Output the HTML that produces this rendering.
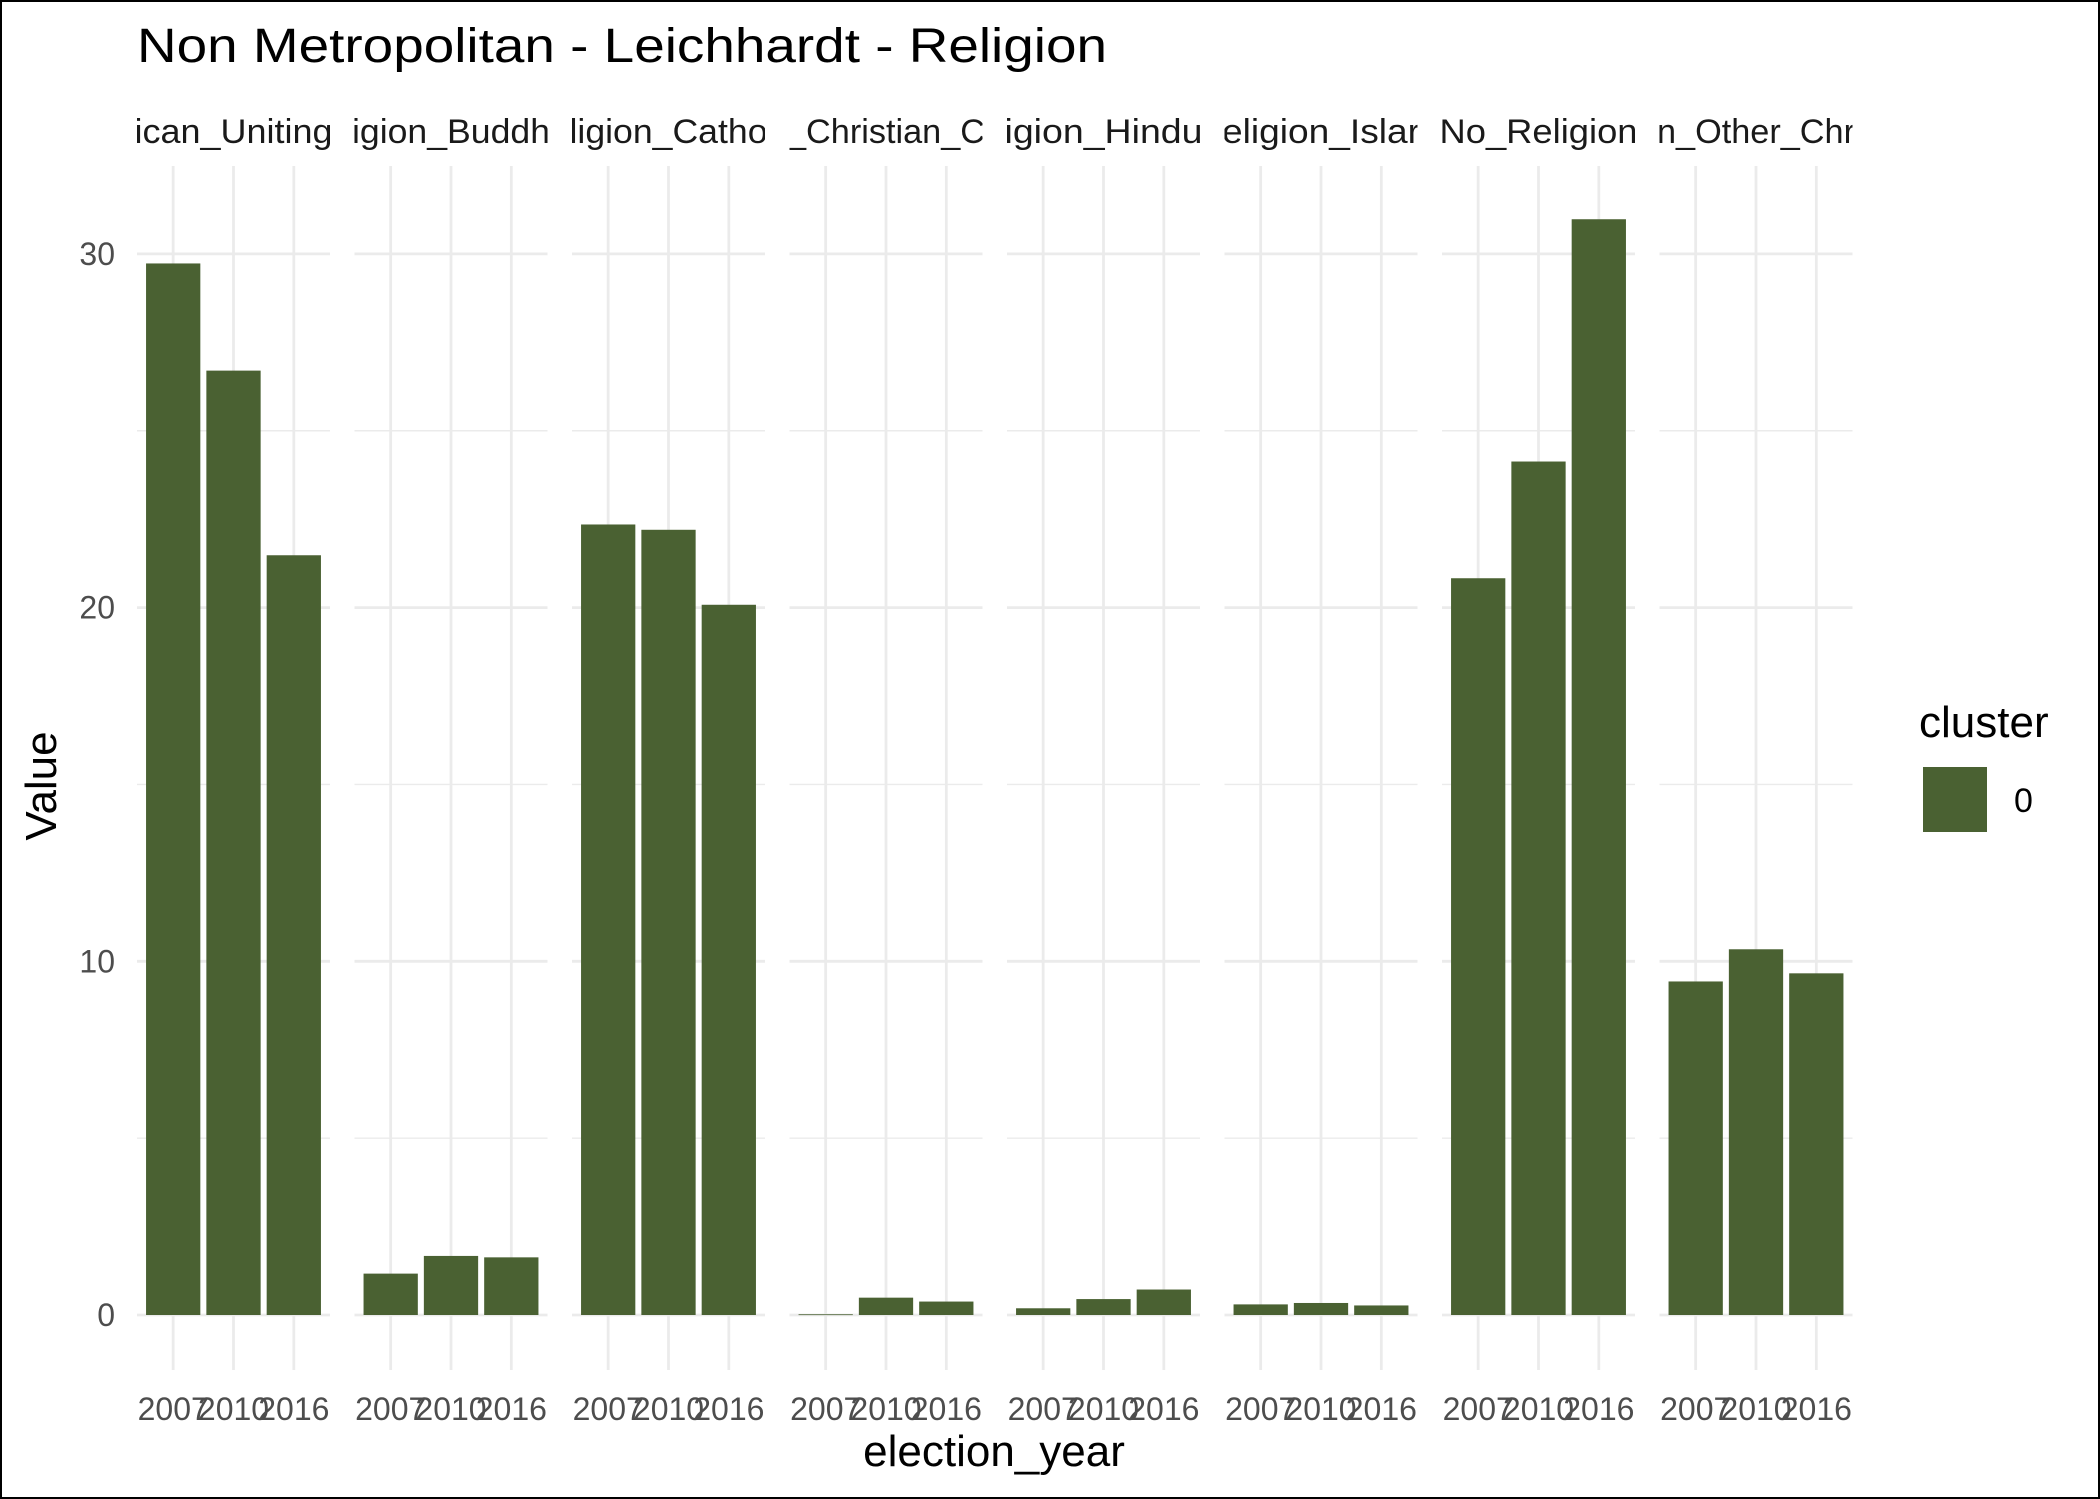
<!DOCTYPE html>
<html><head><meta charset="utf-8"><style>
html,body{margin:0;padding:0;background:#fff}
svg{display:block;font-family:"Liberation Sans",Arial,sans-serif}
</style></head><body>
<svg id="chart" width="2100" height="1499" viewBox="0 0 2100 1499">
<rect x="1" y="1" width="2098" height="1497" fill="#fff" stroke="#000" stroke-width="2"/>
<text x="137" y="62" font-size="48" fill="#000" textLength="970" lengthAdjust="spacingAndGlyphs">Non Metropolitan - Leichhardt - Religion</text>
<g id="plot"></g>
<text transform="translate(56,786) rotate(-90)" text-anchor="middle" font-size="44" fill="#000">Value</text>
<text x="994" y="1466" text-anchor="middle" font-size="44" fill="#000">election_year</text>
<g>
<text x="1919" y="737" font-size="44" fill="#000">cluster</text>
<rect x="1923" y="767" width="64" height="65" fill="#4a6132"/>
<text x="2014" y="812" font-size="34" fill="#000">0</text>
</g>
</svg>
<script>
const panels = ["ican_Uniting","igion_Buddh","ligion_Catho","_Christian_C","igion_Hindu","eligion_Islar","No_Religion","n_Other_Chr"];
const years = ["2007","2010","2016"];
const values = [
  [29.73, 26.7, 21.48],
  [1.17, 1.67, 1.63],
  [22.35, 22.2, 20.08],
  [0.02, 0.49, 0.38],
  [0.19, 0.45, 0.72],
  [0.3, 0.34, 0.27],
  [20.83, 24.13, 30.98],
  [9.43, 10.34, 9.66]
];
const yTicks = [0, 10, 20, 30];
const yMinor = [5, 15, 25];

const NS = "http://www.w3.org/2000/svg";
const plotG = document.getElementById("plot");
const zeroY = 1315, pxPerUnit = 35.37, plotTop = 166, plotBottom = 1370;
const panelX0 = 137, panelStep = 217.5, panelW = 193;
const yScale = v => zeroY - v * pxPerUnit;
const bandStep = panelW / (years.length + 0.2);
const xScale = (p, i) => panelX0 + p * panelStep + (0.6 + i) * bandStep;

function mk(tag, attrs) {
  const e = document.createElementNS(NS, tag);
  for (const k in attrs) e.setAttribute(k, attrs[k]);
  return e;
}
const defs = mk("defs", {});
plotG.appendChild(defs);

yTicks.forEach(t => {
  const tl = mk("text", {x: 115, y: yScale(t) + 11, "text-anchor": "end", "font-size": 32, fill: "#4d4d4d"});
  
  
  tl.textContent = t;
  plotG.appendChild(tl);
});

panels.forEach((name, p) => {
  const px = panelX0 + p * panelStep;
  const g = mk("g", {});
  
  
  yMinor.forEach(t => {
    const l = mk("line", {x1: px, x2: px + panelW, y1: yScale(t), y2: yScale(t), stroke: "#ebebeb", "stroke-width": 1.4});
    
    
    g.appendChild(l);
  });
  yTicks.forEach(t => {
    const l = mk("line", {x1: px, x2: px + panelW, y1: yScale(t), y2: yScale(t), stroke: "#ebebeb", "stroke-width": 2.8});
    
    
    g.appendChild(l);
  });
  years.forEach((yr, i) => {
    const cx = xScale(p, i);
    const l = mk("line", {x1: cx, x2: cx, y1: plotTop, y2: plotBottom, stroke: "#ebebeb", "stroke-width": 2.8});
    
    
    g.appendChild(l);
  });
  years.forEach((yr, i) => {
    const cx = xScale(p, i), v = values[p][i];
    const bw = bandStep * 0.9;
    const r = mk("rect", {x: cx - bw / 2, y: yScale(v), width: bw, height: Math.max(zeroY - yScale(v), 0.8), fill: "#4a6132"});
    
    
    g.appendChild(r);
    const tl = mk("text", {x: cx, y: 1420, "text-anchor": "middle", "font-size": 32, fill: "#4d4d4d"});
    
    
    tl.textContent = yr;
    g.appendChild(tl);
  });
  const cp = mk("clipPath", {id: "clip" + p});
  cp.appendChild(mk("rect", {x: px, y: 100, width: panelW, height: 60}));
  defs.appendChild(cp);
  const st = mk("text", {x: px + panelW / 2, y: 143, "text-anchor": "middle", "font-size": 34, fill: "#1a1a1a", textLength: 198, lengthAdjust: "spacingAndGlyphs", "clip-path": "url(#clip" + p + ")"});
  
  
  st.textContent = name;
  g.appendChild(st);
  plotG.appendChild(g);
});
</script>
</body></html>
